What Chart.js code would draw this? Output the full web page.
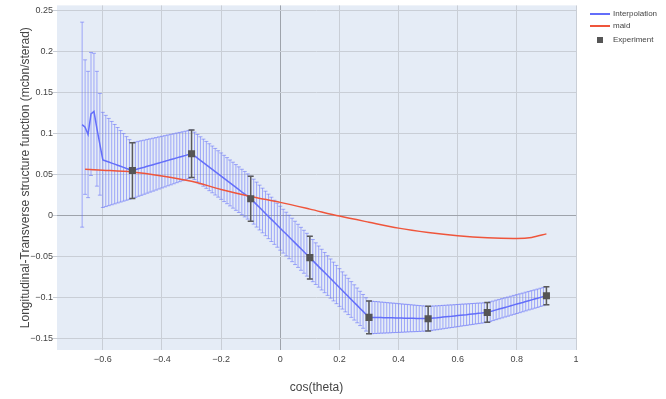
<!DOCTYPE html>
<html>
<head>
<meta charset="utf-8">
<title>Longitudinal-Transverse structure function</title>
<script src="https://cdn.jsdelivr.net/npm/chart.js@4.4.1/dist/chart.umd.min.js"></script>
<style>
  html, body { margin: 0; padding: 0; background: #fff; }
  #wrap { position: relative; width: 666px; height: 399px; }
  #legend { position: absolute; left: 590px; top: 0; font: 8px "Liberation Sans", Arial, sans-serif; color: #444; }
  .lg-row { position: absolute; left: 0; height: 12px; line-height: 12px; white-space: nowrap; }
  .lg-sym { position: absolute; }
  .lg-txt { position: absolute; left: 23px; top: 0; }
</style>
</head>
<body>
<div id="wrap">
  <canvas id="chart" width="666" height="399"></canvas>
  <div id="legend"></div>
</div>
<script>
// interpolation curve, step 0.01
var interpX = [
  -0.67, -0.66, -0.65, -0.64, -0.63, -0.62, -0.61, -0.60,
  -0.59, -0.58, -0.57, -0.56, -0.55, -0.54, -0.53, -0.52, -0.51, -0.50,
  -0.49, -0.48, -0.47, -0.46, -0.45, -0.44, -0.43, -0.42, -0.41, -0.40,
  -0.39, -0.38, -0.37, -0.36, -0.35, -0.34, -0.33, -0.32, -0.31, -0.30,
  -0.29, -0.28, -0.27, -0.26, -0.25, -0.24, -0.23, -0.22, -0.21, -0.20,
  -0.19, -0.18, -0.17, -0.16, -0.15, -0.14, -0.13, -0.12, -0.11, -0.10,
  -0.09, -0.08, -0.07, -0.06, -0.05, -0.04, -0.03, -0.02, -0.01, 0.00,
  0.01, 0.02, 0.03, 0.04, 0.05, 0.06, 0.07, 0.08, 0.09, 0.10,
  0.11, 0.12, 0.13, 0.14, 0.15, 0.16, 0.17, 0.18, 0.19, 0.20,
  0.21, 0.22, 0.23, 0.24, 0.25, 0.26, 0.27, 0.28, 0.29, 0.30,
  0.31, 0.32, 0.33, 0.34, 0.35, 0.36, 0.37, 0.38, 0.39, 0.40,
  0.41, 0.42, 0.43, 0.44, 0.45, 0.46, 0.47, 0.48, 0.49, 0.50,
  0.51, 0.52, 0.53, 0.54, 0.55, 0.56, 0.57, 0.58, 0.59, 0.60,
  0.61, 0.62, 0.63, 0.64, 0.65, 0.66, 0.67, 0.68, 0.69, 0.70,
  0.71, 0.72, 0.73, 0.74, 0.75, 0.76, 0.77, 0.78, 0.79, 0.80,
  0.81, 0.82, 0.83, 0.84, 0.85, 0.86, 0.87, 0.88, 0.89, 0.90
];
var interpY = [
  0.111, 0.108, 0.099, 0.124, 0.127, 0.106, 0.087, 0.068,
  0.0667, 0.0654, 0.0641, 0.0628, 0.0615, 0.0602, 0.0589, 0.0576, 0.0563, 0.0550,
  0.0560, 0.0571, 0.0581, 0.0591, 0.0602, 0.0612, 0.0622, 0.0632, 0.0643, 0.0653,
  0.0663, 0.0674, 0.0684, 0.0694, 0.0705, 0.0715, 0.0725, 0.0735, 0.0746, 0.0756,
  0.0729, 0.0701, 0.0674, 0.0646, 0.0619, 0.0591, 0.0564, 0.0536, 0.0509, 0.0482,
  0.0454, 0.0427, 0.0399, 0.0372, 0.0344, 0.0317, 0.0289, 0.0262, 0.0234, 0.0207,
  0.0171, 0.0135, 0.0099, 0.0063, 0.0027, -0.0009, -0.0045, -0.0081, -0.0117, -0.0153,
  -0.0189, -0.0224, -0.0260, -0.0296, -0.0332, -0.0368, -0.0404, -0.0440, -0.0476, -0.0512,
  -0.0548, -0.0585, -0.0621, -0.0658, -0.0694, -0.0730, -0.0767, -0.0803, -0.0840, -0.0876,
  -0.0912, -0.0949, -0.0985, -0.1022, -0.1058, -0.1094, -0.1131, -0.1167, -0.1204, -0.1240,
  -0.1241, -0.1242, -0.1242, -0.1243, -0.1244, -0.1245, -0.1246, -0.1246, -0.1247, -0.1248,
  -0.1249, -0.1250, -0.1250, -0.1251, -0.1252, -0.1253, -0.1254, -0.1254, -0.1255, -0.1256,
  -0.1252, -0.1248, -0.1245, -0.1241, -0.1237, -0.1233, -0.1229, -0.1226, -0.1222, -0.1218,
  -0.1214, -0.1210, -0.1207, -0.1203, -0.1199, -0.1195, -0.1191, -0.1188, -0.1184, -0.1180,
  -0.1170, -0.1160, -0.1149, -0.1139, -0.1129, -0.1119, -0.1109, -0.1098, -0.1088, -0.1078,
  -0.1068, -0.1058, -0.1047, -0.1037, -0.1027, -0.1017, -0.1007, -0.0996, -0.0986, -0.0976
];
var interpErr = [
  0.125, 0.082, 0.077, 0.075, 0.071, 0.070, 0.062, 0.058,
  0.0556, 0.0532, 0.0508, 0.0484, 0.0460, 0.0436, 0.0412, 0.0388, 0.0364, 0.0340,
  0.0338, 0.0335, 0.0333, 0.0330, 0.0328, 0.0325, 0.0323, 0.0320, 0.0318, 0.0315,
  0.0313, 0.0310, 0.0308, 0.0305, 0.0303, 0.0300, 0.0298, 0.0295, 0.0293, 0.0290,
  0.0289, 0.0289, 0.0288, 0.0287, 0.0286, 0.0286, 0.0285, 0.0284, 0.0283, 0.0283,
  0.0282, 0.0281, 0.0280, 0.0280, 0.0279, 0.0278, 0.0277, 0.0277, 0.0276, 0.0275,
  0.0274, 0.0274, 0.0273, 0.0272, 0.0271, 0.0271, 0.0270, 0.0269, 0.0268, 0.0268,
  0.0267, 0.0266, 0.0265, 0.0265, 0.0264, 0.0263, 0.0262, 0.0262, 0.0261, 0.0260,
  0.0257, 0.0254, 0.0251, 0.0248, 0.0245, 0.0242, 0.0239, 0.0236, 0.0233, 0.0230,
  0.0227, 0.0224, 0.0221, 0.0218, 0.0215, 0.0212, 0.0209, 0.0206, 0.0203, 0.0200,
  0.0198, 0.0195, 0.0193, 0.0190, 0.0188, 0.0185, 0.0183, 0.0180, 0.0178, 0.0175,
  0.0173, 0.0170, 0.0168, 0.0165, 0.0163, 0.0160, 0.0158, 0.0155, 0.0153, 0.0150,
  0.0149, 0.0147, 0.0146, 0.0144, 0.0143, 0.0141, 0.0140, 0.0138, 0.0137, 0.0135,
  0.0134, 0.0132, 0.0131, 0.0129, 0.0128, 0.0126, 0.0125, 0.0123, 0.0122, 0.0120,
  0.0120, 0.0119, 0.0119, 0.0118, 0.0118, 0.0117, 0.0117, 0.0116, 0.0116, 0.0115,
  0.0115, 0.0114, 0.0114, 0.0113, 0.0113, 0.0112, 0.0112, 0.0111, 0.0111, 0.0110
];

var maidX = [-0.66, -0.6, -0.5, -0.4, -0.3, -0.2, -0.1, 0.0, 0.1, 0.2, 0.3, 0.4, 0.5, 0.6, 0.7, 0.8, 0.85, 0.9];
var maidY = [0.0565, 0.0555, 0.0533, 0.0485, 0.0420, 0.0320, 0.0235, 0.0162, 0.0080, -0.0005, -0.0080, -0.0152, -0.0205, -0.0245, -0.0270, -0.0278, -0.0265, -0.0222];

var expX = [-0.5, -0.3, -0.1, 0.1, 0.3, 0.5, 0.7, 0.9];
var expY = [0.055, 0.0756, 0.0207, -0.0512, -0.124, -0.1256, -0.118, -0.0976];
var expErr = [0.034, 0.029, 0.0275, 0.026, 0.020, 0.015, 0.012, 0.011];

var xTickValues = [-0.6, -0.4, -0.2, 0, 0.2, 0.4, 0.6, 0.8, 1];
var xTickLabels = ['\u22120.6', '\u22120.4', '\u22120.2', '0', '0.2', '0.4', '0.6', '0.8', '1'];
var yTickValues = [-0.15, -0.1, -0.05, 0, 0.05, 0.1, 0.15, 0.2, 0.25];
var yTickLabels = ['\u22120.15', '\u22120.1', '\u22120.05', '0', '0.05', '0.1', '0.15', '0.2', '0.25'];

var FONT = '"Liberation Sans", Arial, sans-serif';
var GRID = '#c9ced6';
var ZERO = '#9ea3ab';

function points(xs, ys) {
  return xs.map(function (x, i) { return { x: x, y: ys[i] }; });
}

var plotBackground = {
  id: 'plotBackground',
  beforeDraw: function (chart) {
    var a = chart.chartArea, ctx = chart.ctx;
    ctx.save();
    ctx.fillStyle = '#E5ECF6';
    ctx.fillRect(a.left, a.top, a.right - a.left, a.bottom - a.top);
    ctx.restore();
  }
};

// vertical error bars with caps, drawn under each dataset
var errorBars = {
  id: 'errorBars',
  beforeDatasetDraw: function (chart, args) {
    var ds = chart.data.datasets[args.index];
    if (!ds.errorBars) return;
    var eb = ds.errorBars, xs = chart.scales.x, ys = chart.scales.y;
    var ctx = chart.ctx, a = chart.chartArea;
    ctx.save();
    ctx.beginPath();
    ctx.rect(a.left, a.top, a.right - a.left, a.bottom - a.top);
    ctx.clip();
    ctx.strokeStyle = eb.color;
    ctx.lineWidth = eb.width;
    ctx.beginPath();
    ds.data.forEach(function (p, i) {
      var px = xs.getPixelForValue(p.x);
      var top = ys.getPixelForValue(p.y + eb.values[i]);
      var bot = ys.getPixelForValue(p.y - eb.values[i]);
      ctx.moveTo(px, top); ctx.lineTo(px, bot);
      ctx.moveTo(px - eb.cap, top); ctx.lineTo(px + eb.cap, top);
      ctx.moveTo(px - eb.cap, bot); ctx.lineTo(px + eb.cap, bot);
    });
    ctx.stroke();
    ctx.restore();
  }
};

var datasets = [
  {
    label: 'Interpolation',
    data: points(interpX, interpY),
    borderColor: '#636efa',
    borderWidth: 1.5,
    pointRadius: 0,
    showLine: true,
    order: 3,
    errorBars: { values: interpErr, color: 'rgba(99,110,250,0.55)', width: 1, cap: 2 },
    legendSymbol: 'line'
  },
  {
    label: 'maid',
    data: points(maidX, maidY),
    borderColor: '#EF553B',
    borderWidth: 1.5,
    pointRadius: 0,
    showLine: true,
    tension: 0.3,
    order: 2,
    legendSymbol: 'line'
  },
  {
    label: 'Experiment',
    data: points(expX, expY),
    showLine: false,
    pointStyle: 'rect',
    pointRadius: 5,
    backgroundColor: '#555555',
    borderWidth: 0,
    order: 1,
    errorBars: { values: expErr, color: '#5a5a5a', width: 1.5, cap: 3 },
    legendSymbol: 'square'
  }
];

var chart = new Chart(document.getElementById('chart'), {
  type: 'scatter',
  data: { datasets: datasets },
  plugins: [plotBackground, errorBars],
  options: {
    responsive: false,
    animation: false,
    devicePixelRatio: 1,
    layout: { padding: { top: 5, right: 90, left: 0, bottom: 0 } },
    plugins: { legend: { display: false }, tooltip: { enabled: false } },
    scales: {
      x: {
        type: 'linear',
        min: -0.755,
        max: 1.0,
        afterFit: function (s) { s.height = 49; },
        afterBuildTicks: function (s) { s.ticks = xTickValues.map(function (v) { return { value: v }; }); },
        border: { display: false },
        grid: {
          drawTicks: false,
          color: function (c) { return c.tick && c.tick.value === 0 ? ZERO : GRID; }
        },
        ticks: {
          autoSkip: false,
          maxRotation: 0,
          padding: 4,
          color: '#444',
          font: { family: FONT, size: 9 },
          callback: function (v, i) { return xTickLabels[i]; }
        },
        title: {
          display: true,
          text: 'cos(theta)',
          color: '#444',
          font: { family: FONT, size: 12 },
          padding: { top: 0, bottom: 4 }
        }
      },
      y: {
        type: 'linear',
        min: -0.1638,
        max: 0.2564,
        afterFit: function (s) { s.width = 57; },
        afterBuildTicks: function (s) { s.ticks = yTickValues.map(function (v) { return { value: v }; }); },
        border: { display: false },
        grid: {
          tickLength: 4,
          tickColor: GRID,
          color: function (c) { return c.tick && c.tick.value === 0 ? ZERO : GRID; }
        },
        ticks: {
          autoSkip: false,
          padding: 0,
          color: '#444',
          font: { family: FONT, size: 9 },
          callback: function (v, i) { return yTickLabels[i]; }
        },
        title: {
          display: true,
          text: 'Longitudinal-Transverse structure function (mcbn/sterad)',
          color: '#444',
          font: { family: FONT, size: 12 },
          padding: { top: 18, bottom: 0 }
        }
      }
    }
  }
});

// legend in the right margin, like the original
(function buildLegend() {
  var rowsY = [14, 26, 40];
  var box = document.getElementById('legend');
  datasets.forEach(function (ds, i) {
    var row = document.createElement('div');
    row.className = 'lg-row';
    row.style.top = (rowsY[i] - 6) + 'px';
    var sym = document.createElement('div');
    sym.className = 'lg-sym';
    if (ds.legendSymbol === 'line') {
      sym.style.left = '0px'; sym.style.top = '5px';
      sym.style.width = '20px'; sym.style.height = '2px';
      sym.style.background = ds.borderColor;
    } else {
      sym.style.left = '7px'; sym.style.top = '3px';
      sym.style.width = '6px'; sym.style.height = '6px';
      sym.style.background = ds.backgroundColor;
    }
    var txt = document.createElement('div');
    txt.className = 'lg-txt';
    txt.textContent = ds.label;
    row.appendChild(sym);
    row.appendChild(txt);
    box.appendChild(row);
  });
})();
</script>
</body>
</html>
